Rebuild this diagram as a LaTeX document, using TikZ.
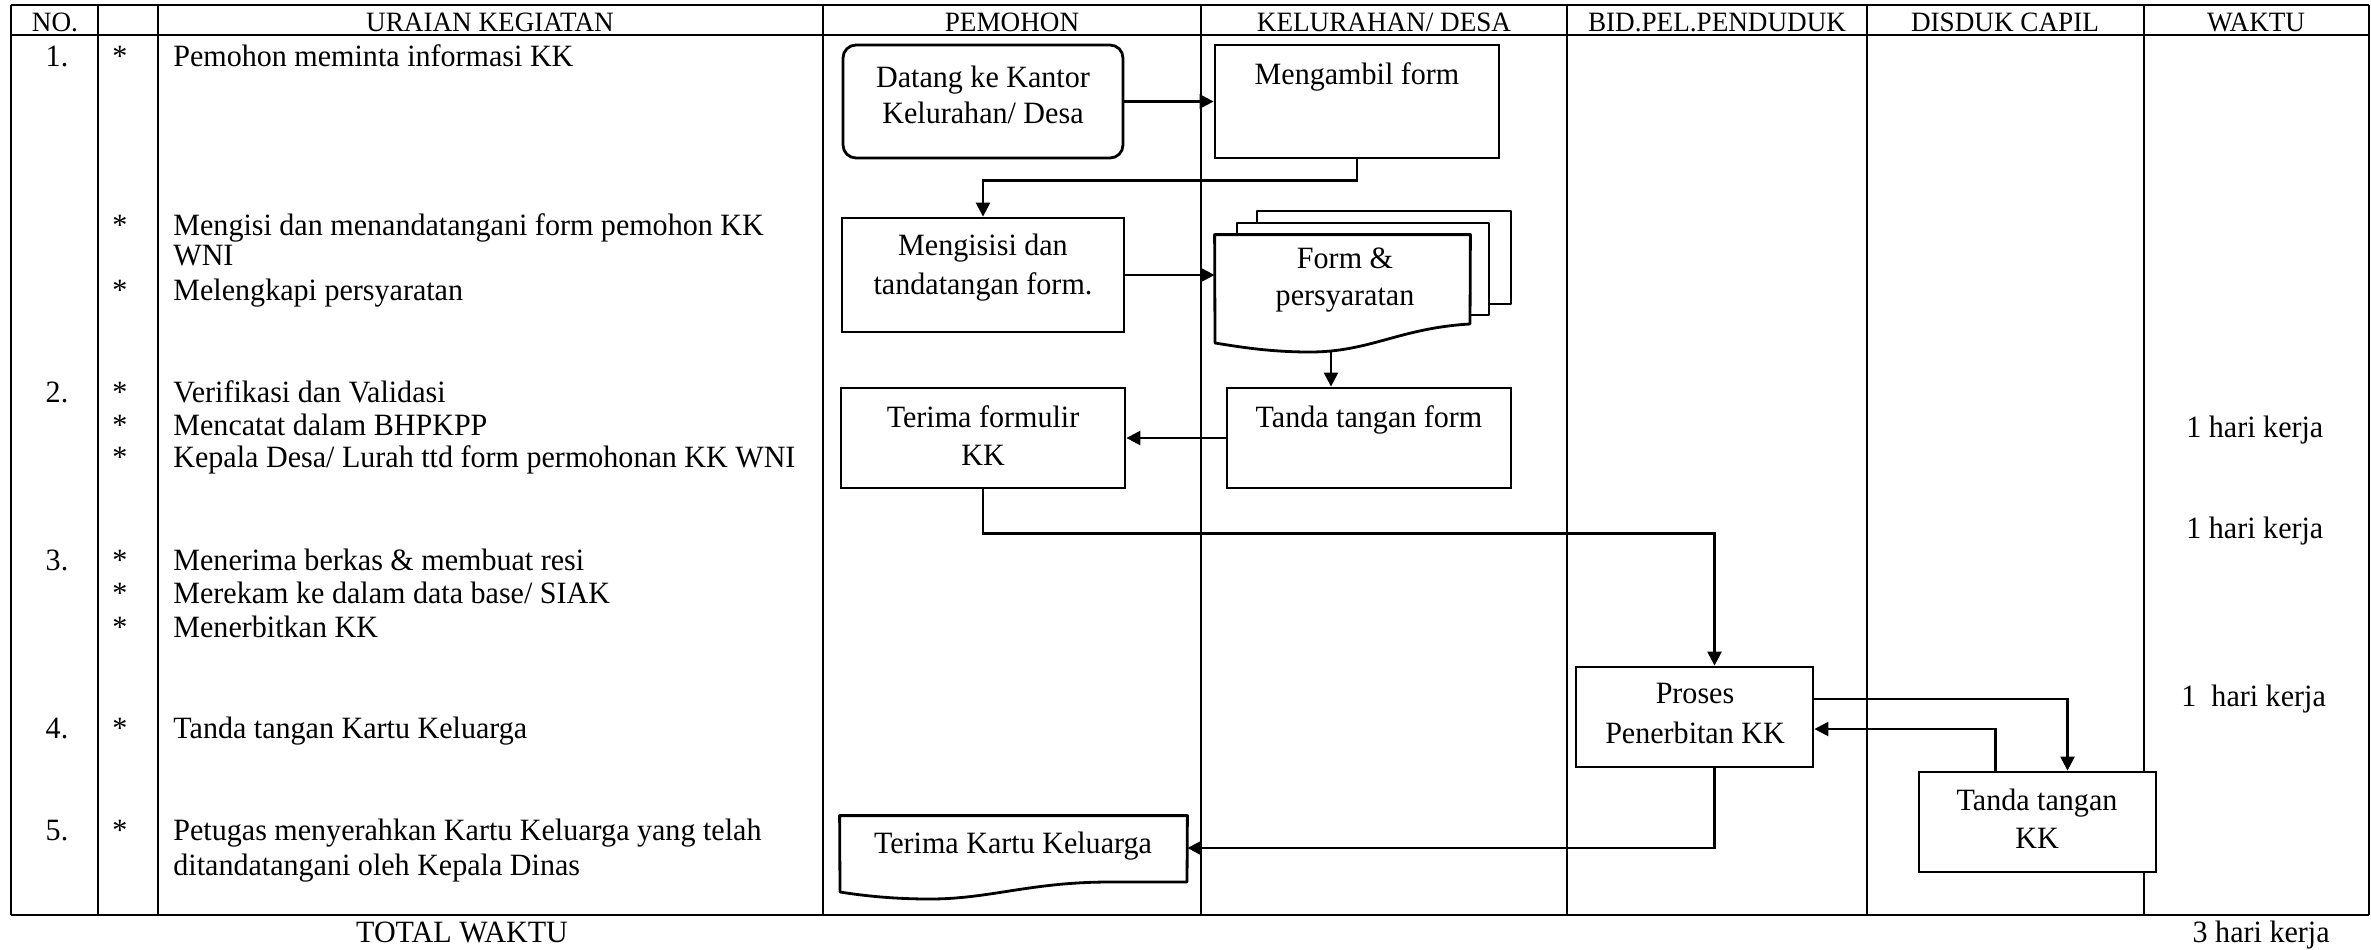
\documentclass[tikz,border=0pt]{standalone}
\usepackage{fontspec}
\setmainfont{Liberation Serif}[FakeStretch=0.97]
\usetikzlibrary{arrows.meta}

\begin{document}
\begin{tikzpicture}[x=0.5pt,y=-0.5pt,
  grid/.style={line width=0.9pt,line cap=square},
  hdr/.style={anchor=base,inner sep=0pt,font=\fontsize{14}{16}\selectfont},
  txt/.style={anchor=base,inner sep=0pt,font=\fontsize{15.5}{18}\selectfont},
  ltxt/.style={txt,anchor=base west},
  rtxt/.style={txt,anchor=base east},
  box/.style={draw,line width=1.4pt,inner sep=0pt,fill=white},
  frame/.style={inner sep=0pt},
  docline/.style={line width=1.4pt,fill=white,line join=round},
  conn/.style={line width=1.2pt,-{Triangle[length=7pt,width=7pt]}}
]
\useasboundingbox (0,0) rectangle (2371,949);

% table grid
\foreach \x in {11,98,158,823,1201,1567,1867,2144,2369}
  \draw[grid] (\x,5) -- (\x,915);
\foreach \y in {5,35,915}
  \draw[grid] (11,\y) -- (2369,\y);

% column headings
\node[hdr] (h-no)  at (55,31)   {NO.};
\node[hdr] (h-ur)  at (490,31)  {URAIAN KEGIATAN};
\node[hdr] (h-pe)  at (1012,31) {PEMOHON};
\node[hdr] (h-ke)  at (1384,31) {KELURAHAN/ DESA};
\node[hdr] (h-bid) at (1717,31) {BID.PEL.PENDUDUK};
\node[hdr] (h-dis) at (2005,31) {DISDUK CAPIL};
\node[hdr] (h-wak) at (2256,31) {WAKTU};

% activity descriptions
\node[txt]  (n1)  at (57,66)  {1.};
\node[txt]  (s1)  at (120,66) {*};
\node[ltxt] (u1)  at (173,66) {Pemohon meminta informasi KK};
\node[txt]  (s1b) at (120,235) {*};
\node[ltxt] (u1b) at (173,235) {Mengisi dan menandatangani form pemohon KK};
\node[ltxt] (u1c) at (173,265) {WNI};
\node[txt]  (s1d) at (120,300) {*};
\node[ltxt] (u1d) at (173,300) {Melengkapi persyaratan};

\node[txt]  (n2)  at (57,402)  {2.};
\node[txt]  (s2)  at (120,402) {*};
\node[ltxt] (u2)  at (173,402) {Verifikasi dan Validasi};
\node[txt]  (s2b) at (120,435) {*};
\node[ltxt] (u2b) at (173,435) {Mencatat dalam BHPKPP};
\node[txt]  (s2c) at (120,467) {*};
\node[ltxt] (u2c) at (173,467) {Kepala Desa/ Lurah ttd form permohonan KK WNI};

\node[txt]  (n3)  at (57,570)  {3.};
\node[txt]  (s3)  at (120,570) {*};
\node[ltxt] (u3)  at (173,570) {Menerima berkas \& membuat resi};
\node[txt]  (s3b) at (120,603) {*};
\node[ltxt] (u3b) at (173,603) {Merekam ke dalam data base/ SIAK};
\node[txt]  (s3c) at (120,637) {*};
\node[ltxt] (u3c) at (173,637) {Menerbitkan KK};

\node[txt]  (n4)  at (57,738)  {4.};
\node[txt]  (s4)  at (120,738) {*};
\node[ltxt] (u4)  at (173,738) {Tanda tangan Kartu Keluarga};

\node[txt]  (n5)  at (57,840)  {5.};
\node[txt]  (s5)  at (120,840) {*};
\node[ltxt] (u5)  at (173,840) {Petugas menyerahkan Kartu Keluarga yang telah};
\node[ltxt] (u5b) at (173,875) {ditandatangani oleh Kepala Dinas};

\node[txt] (total) at (462,942) {TOTAL WAKTU};

% time column
\node[ltxt] (w1) at (2186,437) {1 hari kerja};
\node[ltxt] (w2) at (2186,538) {1 hari kerja};
\node[ltxt] (w3) at (2181,706) {1\ \ hari kerja};
\node[rtxt] (wt) at (2330,942) {3 hari kerja};

% process boxes
\node[box,rounded corners=6.5pt,minimum width=140pt,minimum height=56.5pt] (datang) at (983,101.5) {};
\node[txt] (datang-a) at (983,87)  {Datang ke Kantor};
\node[txt] (datang-b) at (983,123) {Kelurahan/ Desa};

\node[box,minimum width=142pt,minimum height=56.5pt] (mengambil) at (1357,101.5) {};
\node[txt] (mengambil-a) at (1357,84) {Mengambil form};

\node[box,minimum width=141pt,minimum height=57pt] (mengisisi) at (983,275) {};
\node[txt] (mengisisi-a) at (983,255) {Mengisisi dan};
\node[txt] (mengisisi-b) at (983,294) {tandatangan form.};

% stacked documents: form and requirements
\draw[docline] (1257,211) rectangle (1511,304);
\draw[docline] (1237,223) rectangle (1489,315);
\node[frame,minimum width=127.5pt,minimum height=42pt] (form) at (1342.5,277) {};
\draw[docline] (form.north west) -- (form.north east) -- (1470,324)
  .. controls (1400,328) and (1370,352) .. (1310,352)
  .. controls (1270,352) and (1240,347) .. (1215,343) -- cycle;
\coordinate (formbot) at (1331,351);
\node[txt] (form-a) at (1345,268) {Form \&};
\node[txt] (form-b) at (1345,305) {persyaratan};

\node[box,minimum width=142pt,minimum height=50pt] (ttdform) at (1369,438) {};
\node[txt] (ttdform-a) at (1369,427) {Tanda tangan form};

\node[box,minimum width=142pt,minimum height=50pt] (terima) at (983,438) {};
\node[txt] (terima-a) at (983,427) {Terima formulir};
\node[txt] (terima-b) at (983,465) {KK};

\node[box,minimum width=118.5pt,minimum height=50pt] (proses) at (1694.5,717) {};
\node[txt] (proses-a) at (1695,703) {Proses};
\node[txt] (proses-b) at (1695,743) {Penerbitan KK};

\node[box,minimum width=118.5pt,minimum height=50pt] (ttdkk) at (2037.5,822) {};
\node[txt] (ttdkk-a) at (2037,810) {Tanda tangan};
\node[txt] (ttdkk-b) at (2037,848) {KK};

% document: family card received
\node[frame,minimum width=173.5pt,minimum height=32pt] (tkk) at (1013.5,848) {};
\draw[docline] (tkk.north west) -- (tkk.north east) -- (1187,882) -- (1110,882)
  .. controls (1030,882) and (990,899) .. (930,899)
  .. controls (895,899) and (865,896) .. (840,892) -- cycle;
\node[txt] (tkk-a) at (1013,853) {Terima Kartu Keluarga};

% flow connectors
\draw[conn] (datang.east) -- (datang.east -| mengambil.west);
\draw[conn] (mengambil.south) -- ++(0,21) -| (mengisisi.north);
\draw[conn] (mengisisi.east) -- (mengisisi.east -| form.west);
\draw[conn] (formbot) -- (formbot |- ttdform.north);
\draw[conn] (ttdform.west) -- (terima.east);
\draw[conn] (terima.south) -- ++(0,44) -| ([xshift=10pt]proses.north);
\draw[conn] ([yshift=9pt]proses.east) -| ([xshift=15pt]ttdkk.north);
\draw[conn] ([xshift=-21pt]ttdkk.north) |- ([yshift=-6pt]proses.east);
\draw[conn] ([xshift=10pt]proses.south) |- (tkk.east);
\end{tikzpicture}
\end{document}
